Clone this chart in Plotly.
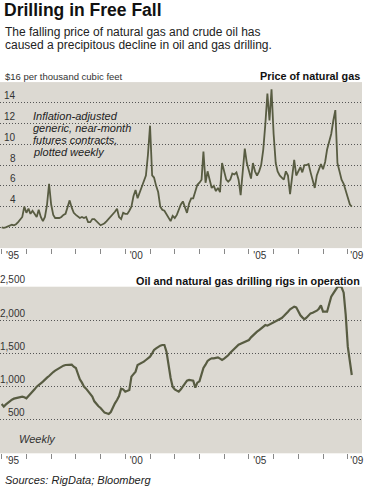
import pandas as pd
import plotly.graph_objects as go

# ---------------- data (monthly readings, Jan 1995 - Mar 2009) ----------------
months = pd.date_range("1995-01-01", "2009-03-01", freq="MS")

gas_price = (
    [2.0, 1.95, 2.0, 2.1, 2.15, 2.25, 2.2, 2.3, 2.5, 2.7, 3.0, 4.0] +        # 1995
    [3.4, 3.8, 3.3, 3.6, 3.3, 3.0, 3.7, 3.0, 2.6, 3.0, 4.2, 6.2] +           # 1996
    [4.2, 3.2, 2.9, 2.9, 2.9, 3.0, 3.2, 3.3, 3.9, 4.6, 3.9, 3.4] +           # 1997
    [3.2, 3.0, 2.9, 3.0, 2.9, 3.0, 2.5, 2.5, 2.8, 2.8, 2.6, 2.4] +           # 1998
    [2.2, 2.3, 2.4, 2.6, 2.8, 3.0, 3.2, 3.5, 3.8, 3.0, 2.8, 3.4] +           # 1999
    [3.3, 3.3, 3.6, 4.0, 5.0, 5.6, 4.8, 5.4, 6.0, 6.6, 7.0, 9.0] +           # 2000
    [11.8, 7.0, 6.8, 6.0, 5.4, 4.0, 3.7, 3.6, 3.3, 2.9, 2.6, 3.1] +          # 2001
    [2.9, 3.2, 3.7, 4.2, 4.5, 4.0, 3.4, 4.3, 4.8, 4.8, 5.4, 6.1] +           # 2002
    [6.3, 6.6, 9.3, 6.3, 7.4, 6.5, 5.8, 6.0, 5.5, 5.8, 5.4, 8.2] +           # 2003
    [7.4, 6.6, 6.4, 6.6, 7.2, 7.1, 7.3, 6.6, 5.1, 7.0, 9.6, 8.2] +           # 2004
    [7.4, 6.7, 8.2, 7.4, 7.0, 7.4, 8.0, 9.5, 12.0, 14.9, 12.3, 15.3] +       # 2005
    [11.0, 8.2, 7.4, 7.0, 6.8, 6.6, 7.4, 7.0, 5.2, 6.8, 8.5, 7.0] +          # 2006
    [7.4, 7.8, 7.3, 8.0, 8.0, 8.1, 7.3, 6.5, 5.8, 7.0, 7.6, 8.1] +           # 2007
    [7.6, 8.3, 9.5, 10.3, 11.0, 12.3, 13.3, 8.2, 7.4, 6.6, 6.2, 5.6] +       # 2008
    [4.8, 4.2, 4.0]                                                          # 2009
)

rig_count = (
    [740, 700, 730, 760, 790, 805, 820, 830, 840, 845, 850, 840] +
    [825, 860, 890, 920, 960, 1000, 1030, 1050, 1075, 1110, 1135, 1160] +
    [1195, 1220, 1240, 1260, 1275, 1300, 1315, 1325, 1330, 1335, 1330, 1300] +
    [1280, 1190, 1110, 1060, 1000, 970, 925, 890, 850, 780, 740, 705] +
    [680, 650, 610, 600, 590, 620, 690, 750, 800, 860, 970, 960] +
    [925, 935, 950, 1150, 1190, 1225, 1325, 1340, 1350, 1375, 1400, 1425] +
    [1450, 1500, 1550, 1575, 1600, 1615, 1625, 1625, 1525, 1300, 1130, 1000] +
    [960, 940, 925, 960, 1000, 1040, 1090, 1100, 1100, 1090, 985, 1060] +
    [1080, 1200, 1280, 1330, 1385, 1410, 1425, 1425, 1430, 1440, 1420, 1400] +
    [1420, 1440, 1470, 1510, 1540, 1565, 1600, 1630, 1645, 1660, 1675, 1690] +
    [1700, 1740, 1770, 1800, 1825, 1850, 1870, 1900, 1925, 1915, 1930, 1950] +
    [1965, 1980, 1995, 2015, 2030, 2060, 2100, 2125, 2160, 2185, 2200, 2190] +
    [2120, 2070, 2040, 2010, 2035, 2070, 2100, 2110, 2125, 2140, 2170, 2220] +
    [2125, 2125, 2125, 2240, 2350, 2400, 2450, 2495, 2505, 2490, 2410, 2080] +
    [1600, 1380, 1175]
)

gas_ticks = [4, 6, 8, 10, 12, 14]
gas_grid = [2, 4, 6, 8, 10, 12, 14]
rig_ticks = [500, 1000, 1500, 2000, 2500]
rig_tick_text = ["500", "1,000", "1,500", "2,000", "2,500"]
year_label_pos = ["1995-06-10", "2000-06-10", "2005-06-10", "2009-05-15"]
year_labels = ["'95", "'00", "'05", "'09"]

# ---------------- layout helpers ----------------
W, H = 366, 489
LINE = "#585c42"
BG = "#dcd9d2"
FONT = "Liberation Sans, Arial, sans-serif"


def px(x):
    return x / W


def py(y):
    return 1 - y / H


fig = go.Figure()
fig.add_trace(go.Scatter(x=months, y=gas_price, mode="lines",
                         line=dict(color=LINE, width=1.8), xaxis="x", yaxis="y",
                         hoverinfo="skip"))
fig.add_trace(go.Scatter(x=months, y=rig_count, mode="lines",
                         line=dict(color=LINE, width=2.2), xaxis="x2", yaxis="y2",
                         hoverinfo="skip"))

xrange_ = ["1994-12-07", "2009-07-30"]
xcommon = dict(type="date", range=xrange_, showgrid=False, zeroline=False,
               showline=False, tickmode="array", tickvals=year_label_pos,
               ticktext=year_labels, ticks="", ticklen=0,
               ticklabeloverflow="allow",
               tickfont=dict(family=FONT, size=10, color="#333"),
               minor=dict(ticks="outside", ticklen=5, tickcolor="#888",
                          tickwidth=1, dtick="M12", tick0="1995-01-01",
                          showgrid=False),
               fixedrange=True)

fig.update_layout(
    width=W, height=H,
    margin=dict(l=0, r=0, t=0, b=0),
    paper_bgcolor="white", plot_bgcolor=BG,
    showlegend=False,
    xaxis=dict(domain=[0, px(364)], anchor="y", **xcommon),
    yaxis=dict(domain=[py(248.1), py(82.1)], range=[0, 16], tickmode="array",
               tickvals=gas_grid, showticklabels=False, showgrid=True,
               gridcolor="#555", griddash="1px,2px", gridwidth=1,
               zeroline=False, showline=False, fixedrange=True),
    xaxis2=dict(domain=[0, px(364)], anchor="y2", **xcommon),
    yaxis2=dict(domain=[py(453.3), py(286.7)], range=[0, 2500], tickmode="array",
                tickvals=rig_ticks[:-1], showticklabels=False, showgrid=True,
                gridcolor="#555", griddash="1px,2px", gridwidth=1,
                zeroline=False, showline=False, fixedrange=True),
)

ann = []
# title and subtitle
ann.append(dict(text="<b>Drilling in Free Fall</b>", x=px(2), y=py(9.5),
                xanchor="left", yanchor="middle",
                font=dict(family=FONT, size=17.5, color="#111")))
ann.append(dict(text="The falling price of natural gas and crude oil has",
                x=px(3), y=py(32), xanchor="left", yanchor="middle",
                font=dict(family=FONT, size=12, color="#222")))
ann.append(dict(text="caused a precipitous decline in oil and gas drilling.",
                x=px(3), y=py(44.5), xanchor="left", yanchor="middle",
                font=dict(family=FONT, size=12, color="#222")))

# top panel labels
ann.append(dict(text="$16 per thousand cubic feet", x=px(3), y=py(76),
                xanchor="left", yanchor="middle",
                font=dict(family=FONT, size=9.5, color="#333")))
ann.append(dict(text="<b>Price of natural gas</b>", x=px(364), y=py(76),
                xanchor="right", yanchor="middle",
                font=dict(family=FONT, size=10.8, color="#111")))
for v in gas_ticks:
    ann.append(dict(text=str(v), xref="paper", yref="y", x=px(18.5), y=v,
                    xanchor="right", yanchor="middle", yshift=7,
                    font=dict(family=FONT, size=10, color="#333")))
note_lines = ["Inflation-adjusted", "generic, near-month",
              "futures contracts,", "plotted weekly"]
for i, t in enumerate(note_lines):
    ann.append(dict(text="<i>" + t + "</i>", x=px(31), y=py(115.7 + 12 * i),
                    xanchor="left", yanchor="middle",
                    font=dict(family=FONT, size=11, color="#222")))

# bottom panel labels
ann.append(dict(text="<b>Oil and natural gas drilling rigs in operation</b>",
                x=px(364), y=py(280.5), xanchor="right", yanchor="middle",
                font=dict(family=FONT, size=10.8, color="#111")))
for v, t in zip(rig_ticks, rig_tick_text):
    ann.append(dict(text=t, xref="paper", yref="y2", x=px(27.5), y=v,
                    xanchor="right", yanchor="middle", yshift=7,
                    font=dict(family=FONT, size=10, color="#333")))
ann.append(dict(text="<i>Weekly</i>", x=px(17), y=py(438.5),
                xanchor="left", yanchor="middle",
                font=dict(family=FONT, size=11, color="#333")))
ann.append(dict(text="<i>Sources: RigData; Bloomberg</i>", x=px(3), y=py(480),
                xanchor="left", yanchor="middle",
                font=dict(family=FONT, size=11, color="#222")))

for a in ann:
    a.setdefault("xref", "paper")
    a.setdefault("yref", "paper")
    a["showarrow"] = False
fig.update_layout(annotations=ann)

fig.write_html("out.html", config={"displayModeBar": False},
               post_script="document.body.style.margin='0';"
                           "document.body.style.padding='0';"
                           "document.body.style.overflow='hidden';")
